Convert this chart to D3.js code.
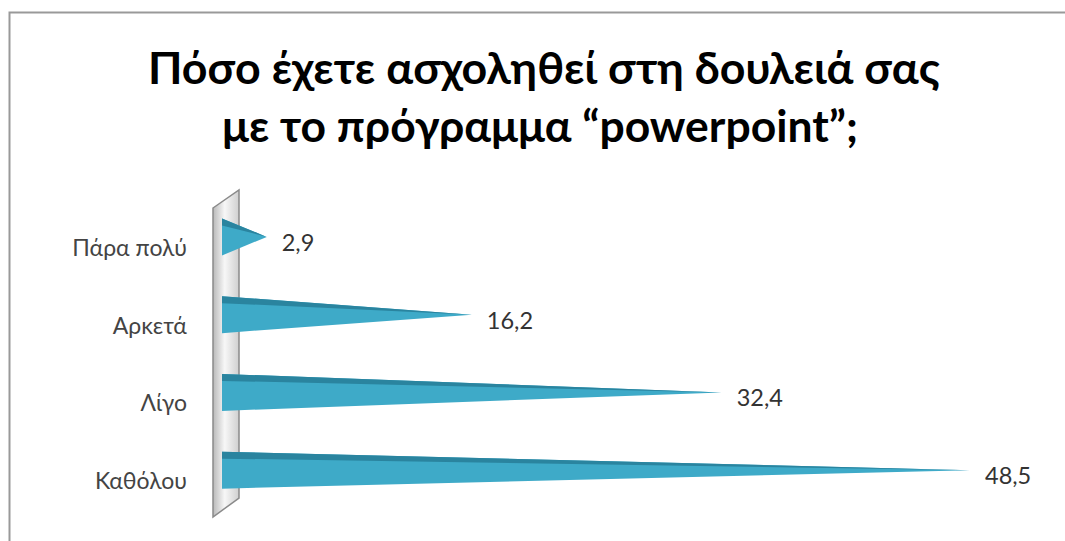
<!DOCTYPE html>
<html><head><meta charset="utf-8">
<script src="https://cdn.jsdelivr.net/npm/d3@7"></script>
<style>body{margin:0;background:#fff}svg{display:block}</style>
</head><body>
<svg id="c" width="1065" height="541"></svg>
<script>
const categories = ["Πάρα πολύ", "Αρκετά", "Λίγο", "Καθόλου"];
const values = [2.9, 16.2, 32.4, 48.5];
const valueLabels = ["2,9", "16,2", "32,4", "48,5"];
const titleLines = ["Πόσο έχετε ασχοληθεί στη δουλειά σας", "με το πρόγραμμα “powerpoint”;"];

const svg = d3.select("#c");
const defs = svg.append("defs");
const FONT = "Lato, 'Open Sans', sans-serif";

// frame
svg.append("rect").attr("x", 9.5).attr("y", 12.5).attr("width", 1070).attr("height", 540)
  .attr("fill", "#fff").attr("stroke", "#999").attr("stroke-width", 2);

// title
const titleTargets = [[148, 940, 84], [222, 858, 142]];
titleLines.forEach((t, i) => {
  const [x0, x1, y] = titleTargets[i];
  const txt = svg.append("text").attr("x", (x0 + x1) / 2).attr("y", y)
    .attr("text-anchor", "middle").attr("font-family", FONT)
    .attr("font-weight", "bold").attr("font-size", 40).attr("fill", "#000").text(t);
  const w = txt.node().getComputedTextLength();
  txt.attr("font-size", 40 * (x1 - x0) / w);
});

const x = d3.scaleLinear().domain([0, 48.5]).range([222, 970]);
const y = d3.scaleBand().domain(categories).range([198, 509]);

// back wall
const wg = defs.append("linearGradient").attr("id", "wall").attr("x1", 0).attr("x2", 1).attr("y1", 0).attr("y2", 0);
wg.append("stop").attr("offset", "0%").attr("stop-color", "#b9b9b9");
wg.append("stop").attr("offset", "45%").attr("stop-color", "#f7f7f7");
wg.append("stop").attr("offset", "100%").attr("stop-color", "#cfcfcf");
svg.append("path")
  .attr("d", "M213,208 L239,190 L239,498 L213,517 Z")
  .attr("fill", "url(#wall)").attr("stroke", "#8a8a8a").attr("stroke-width", 1.5);

// cones
const half = 18.5;
const g = svg.append("g");
categories.forEach((c, i) => {
  const cy = y(c) + y.bandwidth() / 2;
  const x0 = x(0), xt = x(values[i]);
  g.append("path")
    .attr("d", `M${x0},${cy - half} L${xt},${cy} L${x0},${cy + half} Z`)
    .attr("fill", "#3eaac8");
  g.append("path")
    .attr("d", `M${x0},${cy - half} L${xt},${cy} L${x0},${cy - half + 7} Z`)
    .attr("fill", "#2a849f");
  svg.append("text").attr("x", xt + 15).attr("y", cy + 14)
    .attr("font-family", FONT).attr("font-size", 23.5)
    .attr("fill", "#333").text(valueLabels[i]);
  svg.append("text").attr("x", 187).attr("y", cy + 19)
    .attr("text-anchor", "end")
    .attr("font-family", FONT).attr("font-size", 23)
    .attr("fill", "#444").text(c);
});
</script>
</body></html>
